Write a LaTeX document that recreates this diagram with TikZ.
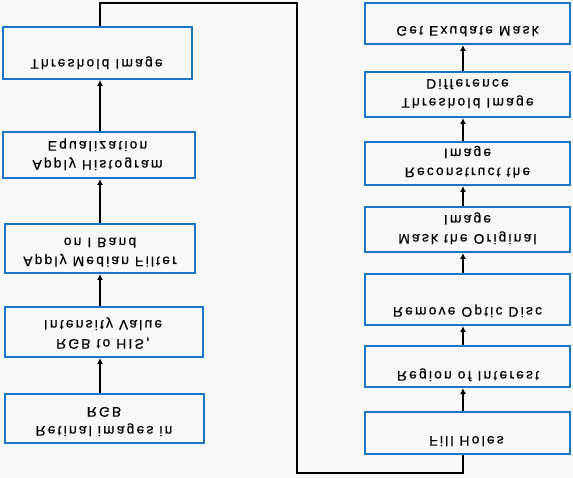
\documentclass[tikz,border=0pt]{standalone}
\usepackage{fontspec}
\setmainfont{Liberation Sans}[LetterSpace=16,FakeBold=0.5]
\usetikzlibrary{arrows.meta}
\definecolor{bg}{RGB}{248,248,248}
\definecolor{boxblue}{RGB}{28,118,200}
\newcommand{\fliptext}[1]{\scalebox{1}[-1]{\begin{tabular}{@{}c@{}}#1\end{tabular}}}
\tikzset{
  procbox/.style={draw=boxblue, line width=2pt, fill=bg, inner sep=0pt},
  txt/.style={inner sep=0pt, font=\fontsize{13.8}{19}\selectfont, text=black},
  arr/.style={draw=black, line width=1.8pt, -{Latex[length=6pt,width=6pt]}},
  backline/.style={draw=black, line width=1.5pt}
}
\begin{document}
\begin{tikzpicture}[x=1pt,y=-1pt]
\useasboundingbox[fill=bg] (0,0) rectangle (573,478);
% left column boxes
\node[procbox, minimum width=199pt, minimum height=49pt] (L1) at (104.5,418.5) {};
\node[procbox, minimum width=198pt, minimum height=50pt] (L2) at (104,332) {};
\node[procbox, minimum width=190pt, minimum height=49pt] (L3) at (100,248.5) {};
\node[procbox, minimum width=192pt, minimum height=46pt] (L4) at (99,155) {};
\node[procbox, minimum width=189pt, minimum height=52pt] (L5) at (97.5,53) {};
% right column boxes
\node[procbox, minimum width=205pt, minimum height=42pt] (R1) at (467.5,433) {};
\node[procbox, minimum width=205pt, minimum height=41pt] (R2) at (467.5,366.5) {};
\node[procbox, minimum width=205pt, minimum height=51pt] (R3) at (467.5,299.5) {};
\node[procbox, minimum width=205pt, minimum height=45pt] (R4) at (467.5,229.5) {};
\node[procbox, minimum width=205pt, minimum height=43pt] (R5) at (467.5,163.5) {};
\node[procbox, minimum width=205pt, minimum height=45pt] (R6) at (467.5,94.5) {};
\node[procbox, minimum width=205pt, minimum height=41pt] (R7) at (467.5,23.5) {};
% texts (printed upside down as in the picture)
\node[txt] (tL1) at (104,420.5) {\fliptext{Retinal images in\\RGB}};
\node[txt] (tL2) at (103,333.5) {\fliptext{RGB to HIS,\\Intensity Value}};
\node[txt] (tL3) at (100,251) {\fliptext{Apply Median Filter\\on I Band}};
\node[txt] (tL4) at (97.5,154.5) {\fliptext{Apply Histogram\\Equalization}};
\node[txt] (tL5) at (96.5,63) {\fliptext{Threshold Image}};
\node[txt] (tR1) at (466.5,440) {\fliptext{Fill Holes}};
\node[txt] (tR2) at (468,375) {\fliptext{Region of Interest}};
\node[txt] (tR3) at (467.5,311) {\fliptext{Remove Optic Disc}};
\node[txt] (tR4) at (467.5,228.5) {\fliptext{Mask the Original\\Image}};
\node[txt] (tR5) at (467.5,162) {\fliptext{Reconstruct the\\Image}};
\node[txt] (tR6) at (467.5,92.5) {\fliptext{Threshold Image\\Difference}};
\node[txt] (tR7) at (467.5,30) {\fliptext{Get Exudate Mask}};
% column coordinates
\coordinate (cl) at (100,0);
\coordinate (cr) at (463,0);
% arrows
\draw[arr] (L1.north -| cl) -- (L2.south -| cl);
\draw[arr] (L2.north -| cl) -- (L3.south -| cl);
\draw[arr] (L3.north -| cl) -- (L4.south -| cl);
\draw[arr] (L4.north -| cl) -- (L5.south -| cl);
\draw[arr] (R1.north -| cr) -- (R2.south -| cr);
\draw[arr] (R2.north -| cr) -- (R3.south -| cr);
\draw[arr] (R3.north -| cr) -- (R4.south -| cr);
\draw[arr] (R4.north -| cr) -- (R5.south -| cr);
\draw[arr] (R5.north -| cr) -- (R6.south -| cr);
\draw[arr] (R6.north -| cr) -- (R7.south -| cr);
% back connector
\coordinate (lt) at (100,3);
\coordinate (lr) at (297,3);
\coordinate (lb) at (297,473);
\coordinate (rb) at (463,473);
\draw[backline] (L5.north -| cl) -- (lt) -- (lr) -- (lb) -- (rb) -- (R1.south -| cr);
\end{tikzpicture}
\end{document}
